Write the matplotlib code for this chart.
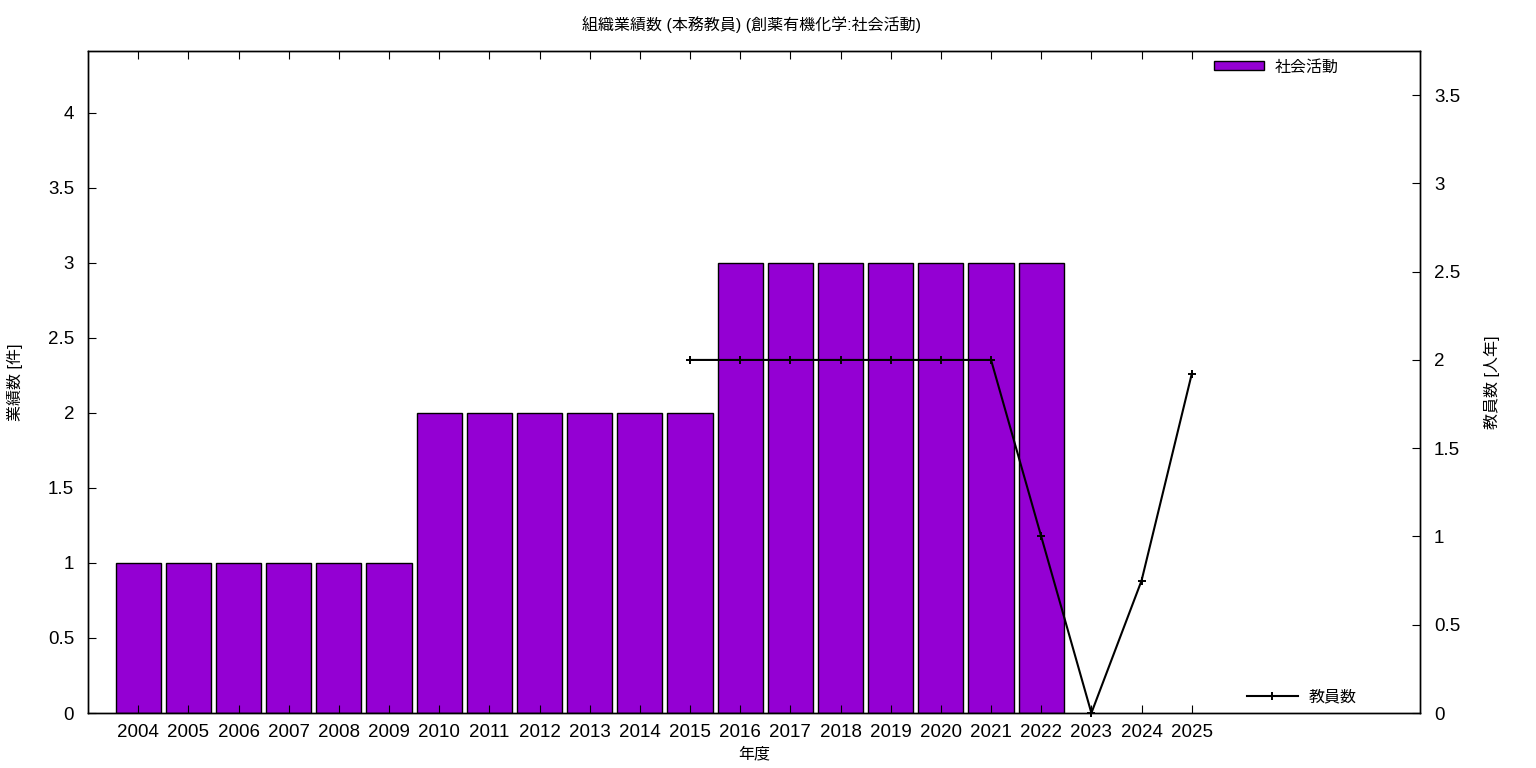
import matplotlib
matplotlib.use("Agg")
import matplotlib.pyplot as plt
from matplotlib.lines import Line2D
from matplotlib.patches import Patch

plt.rcParams['font.family'] = ['Liberation Sans', 'Noto Sans CJK JP', 'DejaVu Sans']

years = list(range(2004, 2026))
bar_years = list(range(2004, 2023))
bar_values = [1, 1, 1, 1, 1, 1, 2, 2, 2, 2, 2, 2, 3, 3, 3, 3, 3, 3, 3]
line_years = list(range(2015, 2026))
line_values = [2, 2, 2, 2, 2, 2, 2, 1, 0, 0.75, 1.92]

title = "組織業績数 (本務教員) (創薬有機化学:社会活動)"
bar_color = "#9400D3"

fig = plt.figure(figsize=(15.36, 7.68), dpi=100)
ax = fig.add_axes([88 / 1536, 1 - 713 / 768, (1420 - 88) / 1536, (713 - 51) / 768])
ax2 = ax.twinx()

xb = [y - 2004 for y in bar_years]
ax.bar(xb, bar_values, width=0.9, color=bar_color, edgecolor="black", linewidth=1)
xl = [y - 2004 for y in line_years]
ax2.plot(xl, line_values, color="black", linewidth=1.5, marker="+", markersize=6,
         markeredgewidth=1.4, clip_on=False)

ax.set_xlim(-1, 25.55)
ax.set_ylim(0, 4.413)
ax2.set_ylim(0, 3.75)

ax.set_xticks(range(len(years)))
ax.set_xticklabels([str(y) for y in years])
ax.set_yticks([0, 0.5, 1, 1.5, 2, 2.5, 3, 3.5, 4])
ax.set_yticklabels(["0", "0.5", "1", "1.5", "2", "2.5", "3", "3.5", "4"])
ax2.set_yticks([0, 0.5, 1, 1.5, 2, 2.5, 3, 3.5])
ax2.set_yticklabels(["0", "0.5", "1", "1.5", "2", "2.5", "3", "3.5"])

ax.tick_params(axis="x", direction="in", top=True, length=6, labelsize=13.5, pad=8)
ax.tick_params(axis="y", direction="in", right=False, length=6, labelsize=13.5, pad=10)
ax2.tick_params(axis="y", direction="in", length=6, labelsize=13.5, pad=10)

ax.set_xlabel("年度", fontsize=11.5)
ax.xaxis.set_label_coords(0.5, -(746 - 713) / 662)
ax.set_ylabel("業績数 [件]", fontsize=11.5)
ax.yaxis.set_label_coords((23 - 88) / 1332, 0.5)
ax2.set_ylabel("教員数 [人年]", fontsize=11.5)
ax2.yaxis.set_label_coords((1484 - 88) / 1332, 0.5)
fig.text(752 / 1536, 1 - 25 / 768, title, ha="center", va="center", fontsize=11.5)

for a in (ax, ax2):
    for s in a.spines.values():
        s.set_linewidth(1)

ax.legend(handles=[Patch(facecolor=bar_color, edgecolor="black", label="社会活動")],
          loc="center right", bbox_to_anchor=((1339 - 88) / 1332, (713 - 67) / 662),
          frameon=False, fontsize=11.5, handlelength=3.1, handleheight=0.5,
          handletextpad=0.7, borderpad=0, borderaxespad=0)
ax2.legend(handles=[Line2D([], [], color="black", marker="+", markersize=6,
                           markeredgewidth=1.4, linewidth=1.5, label="教員数")],
           loc="center right", bbox_to_anchor=((1357 - 88) / 1332, (713 - 697) / 662),
           frameon=False, fontsize=11.5, handlelength=3.2, handletextpad=0.7,
           borderpad=0, borderaxespad=0)

fig.savefig("out.png", dpi=100, facecolor="white")
